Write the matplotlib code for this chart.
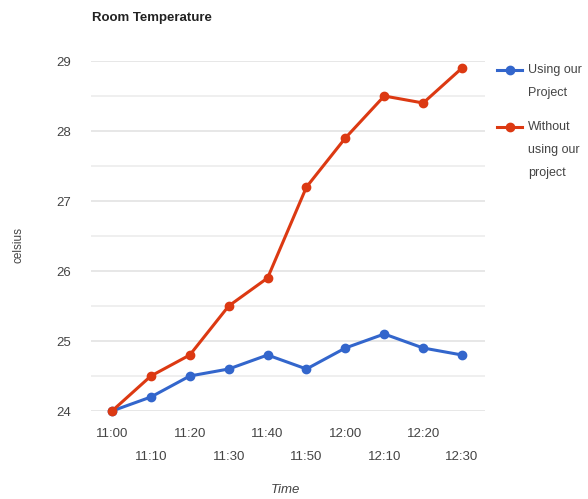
import matplotlib.pyplot as plt
from matplotlib.lines import Line2D
import numpy as np

times = ["11:00", "11:10", "11:20", "11:30", "11:40", "11:50", "12:00", "12:10", "12:20", "12:30"]
using_project = [24.0, 24.2, 24.5, 24.6, 24.8, 24.6, 24.9, 25.1, 24.9, 24.8]
without_project = [24.0, 24.5, 24.8, 25.5, 25.9, 27.2, 27.9, 28.5, 28.4, 28.9]
y_ticks = [24, 25, 26, 27, 28, 29]
series_names = ["Using our\nProject", "Without\nusing our\nproject"]

plt.rcParams['font.family'] = ['Liberation Sans', 'DejaVu Sans']
blue = "#3366cc"
red = "#dc3912"
grey = "#444444"

fig = plt.figure(figsize=(5.88, 4.99), dpi=100)
ax = fig.add_axes([91 / 588, 1 - 411 / 499, (485 - 91) / 588, 350 / 499])

x = np.arange(len(times))
ax.plot(x, using_project, color=blue, lw=2.2, marker="o", ms=6, clip_on=False, zorder=3)
ax.plot(x, without_project, color=red, lw=2.2, marker="o", ms=6, clip_on=False, zorder=4)

ax.set_xlim(-0.54, 9.59)
ax.set_ylim(24, 29)
ax.set_yticks(y_ticks)
ax.set_yticks(np.arange(24.5, 29, 1), minor=True)
ax.grid(True, which="major", axis="y", color="#e3e3e3", lw=1.2)
ax.grid(True, which="minor", axis="y", color="#ececec", lw=1.2)
ax.set_axisbelow(True)

ax.set_xticks(x)
ax.set_xticklabels([t if i % 2 == 0 else "\n" + t for i, t in enumerate(times)],
                   fontsize=9.5, color=grey, linespacing=2.3)
ax.tick_params(axis="x", length=0, pad=12)
ax.tick_params(axis="y", which="both", length=0, pad=14, labelsize=9.5, labelcolor=grey)

for s in ax.spines.values():
    s.set_visible(False)

fig.text(92 / 588, 1 - 18 / 499, "Room Temperature", fontsize=9.5, fontweight="bold",
         color="#222222", va="center", ha="left")
fig.text(18 / 588, 1 - 245 / 499, "celsius", fontsize=8.5, color=grey,
         rotation=90, va="center", ha="center")
fig.text(285 / 588, 1 - 490 / 499, "Time", fontsize=9.5, style="italic", color=grey,
         va="center", ha="center")

# legend drawn by hand so the marker sits on the first text line
for name, color, ymid in zip(series_names, [blue, red], [70, 127]):
    yf = 1 - ymid / 499
    fig.add_artist(Line2D([497 / 588, 522 / 588], [yf, yf], color=color, lw=2.2,
                          transform=fig.transFigure))
    fig.add_artist(Line2D([509.5 / 588], [yf], color=color, marker="o", ms=6,
                          transform=fig.transFigure))
    fig.text(528 / 588, 1 - (ymid - 6) / 499, name, fontsize=9, color=grey,
             va="top", ha="left", linespacing=2.2)

fig.savefig("out.png", dpi=100)
